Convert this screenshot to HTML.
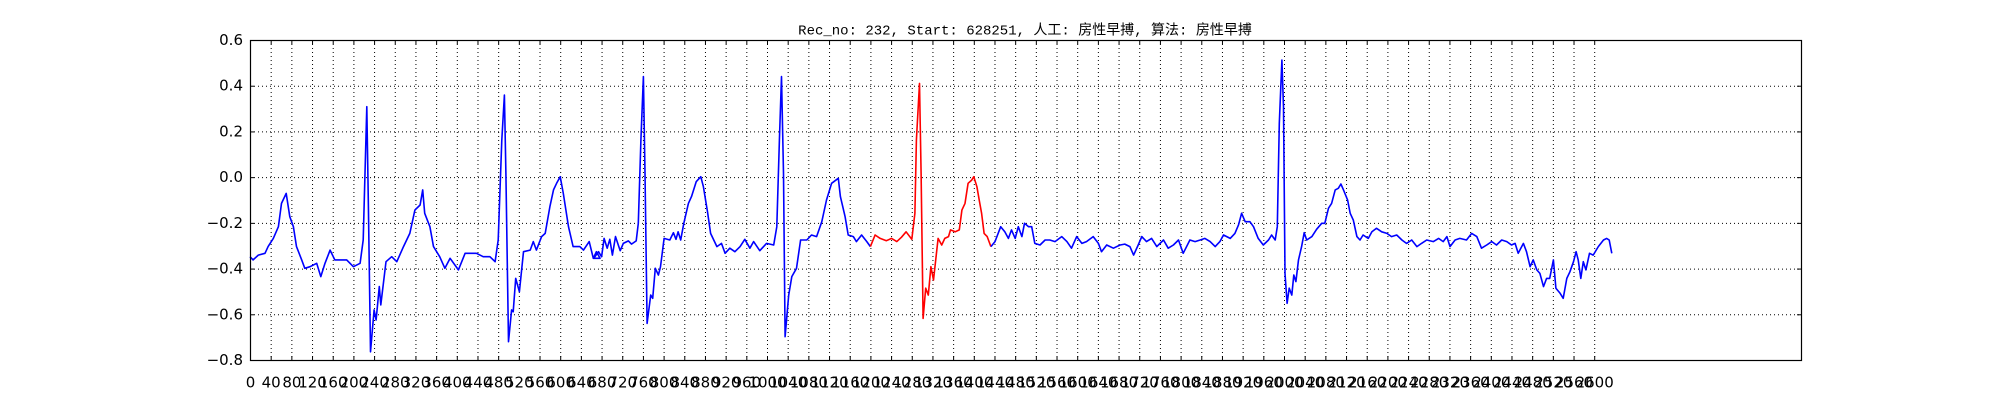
<!DOCTYPE html>
<html><head><meta charset="utf-8"><style>
html,body{margin:0;padding:0;background:#fff;}
#wrap{position:relative;width:2000px;height:400px;overflow:hidden;}
svg text{font-family:"DejaVu Sans","Liberation Sans",sans-serif;}
</style></head><body>
<div id="wrap">
<svg id="chart" width="2000" height="400" xmlns="http://www.w3.org/2000/svg">
<rect x="0" y="0" width="2000" height="400" fill="#fff"/>
<text x="1025" y="31" text-anchor="middle" dominant-baseline="middle" style="font-family:'Liberation Mono','WenQuanYi Zen Hei',monospace;font-size:14px" fill="#000">Rec_no: 232, Start: 628251, 人工: 房性早搏, 算法: 房性早搏</text>
<g id="grid"></g>
<g id="series"></g>
<g id="axes"></g>
</svg>
</div>
<script>
const samples = [0,6,16,29,35,45,55,61,70,77,84,90,100,106,116,129,137,145,155,164,187,200,213,219,226,229,233,240,244,250,253,263,274,284,297,309,319,329,334,338,348,355,367,377,387,403,416,438,451,464,474,480,487,492,495,500,506,509,514,521,529,542,548,554,564,571,580,587,593,600,606,616,625,638,645,656,664,670,677,
665,674,680,685,691,696,701,707,716,722,732,738,747,751,756,761,764,768,775,779,784,790,794,801,812,819,824,828,833,839,848,854,863,872,877,885,891,903,912,919,928,938,948,957,967,974,986,999,1013,1019,1024,1028,1032,1035,1042,1048,1057,1065,1077,1086,1096,1106,1115,1125,1138,1142,1151,1157,1167,1173,1183,1193,1200,1209,1219,1231,1241,1251,1260,1269,1280,1286,1289,1295,1298,1302,1307,1312,1317,1322,1331,
1338,1344,1351,1355,1364,1372,1377,1383,1389,1396,1400,1406,1411,1415,1420,1426,1433,1441,1452,1460,1467,1473,1480,1486,1493,1498,1506,1512,1518,1528,1538,1547,1557,1570,1580,1589,1599,1609,1618,1631,1641,1647,1657,1670,1683,1692,1702,1709,1718,1725,1734,1744,1754,1767,1776,1786,1796,1805,1818,1828,1838,1847,1857,1867,1876,1883,1896,1905,1912,1918,1925,1934,1941,1950,1960,1970,1976,1983,1987,1991,
1996,1999,2002,2006,2010,2015,2019,2023,2028,2034,2039,2044,2054,2063,2073,2079,2086,2092,2099,2105,2110,2115,2123,2128,2134,2141,2147,2153,2163,2170,2179,2189,2199,2208,2218,2228,2237,2247,2257,2266,2276,2289,2299,2308,2315,2321,2331,2340,2353,2363,2373,2382,2392,2402,2411,2421,2431,2440,2447,2453,2463,2469,2476,2482,2489,2495,2502,2508,2514,2521,2526,2534,2540,2547,2553,2560,2565,2569,2574,2579,2584,2591,2598,2608,2618,2624,2629,2634];
const values = [-0.348,-0.362,-0.341,-0.333,-0.304,-0.268,-0.217,-0.115,-0.071,-0.173,-0.217,-0.304,-0.362,-0.399,-0.392,-0.377,-0.435,-0.377,-0.319,-0.362,-0.362,-0.392,-0.377,-0.275,0.308,-0.129,-0.764,-0.581,-0.625,-0.479,-0.559,-0.370,-0.348,-0.370,-0.304,-0.246,-0.144,-0.122,-0.056,-0.158,-0.217,-0.304,-0.348,-0.399,-0.355,-0.406,-0.333,-0.333,-0.348,-0.348,-0.370,-0.275,0.162,0.359,0.017,-0.720,-0.581,-0.589,-0.443,-0.501,-0.326,-0.319,-0.282,-0.319,-0.260,-0.246,-0.129,-0.056,-0.027,0.002,-0.071,-0.217,-0.304,-0.304,-0.319,-0.282,-0.355,-0.326,-0.355,
-0.355,-0.326,-0.348,-0.268,-0.311,-0.272,-0.341,-0.260,-0.322,-0.290,-0.279,-0.293,-0.279,-0.202,0.162,0.440,0.017,-0.640,-0.516,-0.530,-0.399,-0.428,-0.392,-0.268,-0.275,-0.243,-0.272,-0.239,-0.275,-0.202,-0.115,-0.085,-0.020,0.002,-0.042,-0.151,-0.246,-0.304,-0.290,-0.333,-0.311,-0.326,-0.304,-0.272,-0.311,-0.282,-0.322,-0.290,-0.297,-0.217,0.162,0.440,0.017,-0.698,-0.516,-0.435,-0.399,-0.275,-0.275,-0.253,-0.260,-0.195,-0.100,-0.027,-0.005,-0.085,-0.173,-0.253,-0.260,-0.282,-0.253,-0.282,-0.304,-0.253,-0.268,-0.278,-0.268,-0.282,-0.263,-0.239,-0.272,-0.158,0.162,0.410,0.017,-0.618,-0.486,-0.516,-0.392,-0.450,-0.268,
-0.297,-0.268,-0.260,-0.231,-0.239,-0.231,-0.144,-0.115,-0.027,-0.013,0.002,-0.042,-0.107,-0.158,-0.246,-0.260,-0.304,-0.282,-0.217,-0.239,-0.268,-0.231,-0.268,-0.217,-0.260,-0.202,-0.217,-0.217,-0.290,-0.297,-0.275,-0.275,-0.282,-0.260,-0.282,-0.311,-0.260,-0.290,-0.282,-0.260,-0.290,-0.326,-0.297,-0.311,-0.297,-0.293,-0.304,-0.341,-0.297,-0.260,-0.282,-0.268,-0.304,-0.275,-0.311,-0.297,-0.275,-0.333,-0.275,-0.282,-0.275,-0.268,-0.282,-0.304,-0.282,-0.253,-0.268,-0.246,-0.209,-0.158,-0.195,-0.195,-0.217,-0.268,-0.297,-0.275,-0.253,-0.275,-0.217,0.235,
0.512,0.308,-0.421,-0.552,-0.486,-0.516,-0.428,-0.457,-0.362,-0.304,-0.243,-0.275,-0.260,-0.228,-0.202,-0.202,-0.136,-0.115,-0.056,-0.049,-0.030,-0.056,-0.100,-0.158,-0.188,-0.260,-0.275,-0.253,-0.268,-0.239,-0.224,-0.239,-0.246,-0.260,-0.253,-0.275,-0.290,-0.275,-0.304,-0.290,-0.275,-0.282,-0.268,-0.282,-0.260,-0.304,-0.275,-0.268,-0.275,-0.246,-0.260,-0.311,-0.297,-0.282,-0.297,-0.275,-0.282,-0.297,-0.290,-0.333,-0.290,-0.326,-0.392,-0.362,-0.406,-0.421,-0.479,-0.443,-0.443,-0.362,-0.486,-0.508,-0.530,-0.443,-0.414,-0.370,-0.326,-0.362,-0.443,-0.370,-0.406,-0.333,-0.341,-0.304,-0.275,-0.268,-0.275,-0.333];
const redRange = [1200, 1433];
const xTickLabels = [];
for (let t = 0; t <= 2600; t += 40) xTickLabels.push(String(t));
const yTickLabels = ["0.6","0.4","0.2","0.0","\u22120.2","\u22120.4","\u22120.6","\u22120.8"];
const yTickValues = [0.6,0.4,0.2,0.0,-0.2,-0.4,-0.6,-0.8];

const L=250,R=1801,T=40,B=360, XMAX=3000, YMIN=-0.8, YMAX=0.6;
const X = s => L + s*(R-L)/XMAX;
const Y = v => B - (v-YMIN)*(B-T)/(YMAX-YMIN);
const NS="http://www.w3.org/2000/svg";
function mk(tag, attrs, parent){const e=document.createElementNS(NS,tag);for(const k in attrs)e.setAttribute(k,attrs[k]);parent.appendChild(e);return e;}
const grid=document.getElementById('grid'), axes=document.getElementById('axes'), series=document.getElementById('series');

xTickLabels.forEach(lab=>{
  const x=X(+lab)+0.5;
  const g=mk('line',{x1:x,x2:x,y1:T,y2:B,stroke:'#000','stroke-width':1,'stroke-dasharray':'1,3'},grid);
  
  
  const t1=mk('line',{x1:x,x2:x,y1:B,y2:B-4,stroke:'#000','stroke-width':1},axes);
  
  
  const t2=mk('line',{x1:x,x2:x,y1:T,y2:T+4,stroke:'#000','stroke-width':1},axes);
  
  
  const tx=mk('text',{x:x,y:383,'text-anchor':'middle','dominant-baseline':'middle','font-size':15,fill:'#000'},axes);
  tx.textContent=lab;
  
  
});
yTickValues.forEach((v,i)=>{
  const y=Y(v)+0.5;
  if(i>0&&i<yTickValues.length-1){
    const g=mk('line',{x1:L,x2:R,y1:y,y2:y,stroke:'#000','stroke-width':1,'stroke-dasharray':'1,3'},grid);
    
    
  }
  const t1=mk('line',{x1:L,x2:L+4,y1:y,y2:y,stroke:'#000','stroke-width':1},axes);
  
  
  const t2=mk('line',{x1:R-4,x2:R,y1:y,y2:y,stroke:'#000','stroke-width':1},axes);
  
  
  const tx=mk('text',{x:243,y:y,'text-anchor':'end','dominant-baseline':'middle','font-size':15,fill:'#000'},axes);
  tx.textContent=yTickLabels[i];
  
  
});
const frame=mk('rect',{x:L+0.5,y:T+0.5,width:R-L,height:B-T,fill:'none',stroke:'#000','stroke-width':1.2},axes);



function pts(filter){return samples.map((s,i)=>[s,values[i]]).filter(p=>filter(p[0])).map(p=>X(p[0]).toFixed(1)+','+Y(p[1]).toFixed(1)).join(' ');}
const b1=mk('polyline',{points:pts(s=>s<=redRange[0]),fill:'none',stroke:'#0000ff','stroke-width':1.6,'stroke-linejoin':'round'},series);


const r1=mk('polyline',{points:pts(s=>s>=redRange[0]&&s<=redRange[1]),fill:'none',stroke:'#ff0000','stroke-width':1.6,'stroke-linejoin':'round'},series);


const b2=mk('polyline',{points:pts(s=>s>=redRange[1]),fill:'none',stroke:'#0000ff','stroke-width':1.6,'stroke-linejoin':'round'},series);


</script>
</body></html>
